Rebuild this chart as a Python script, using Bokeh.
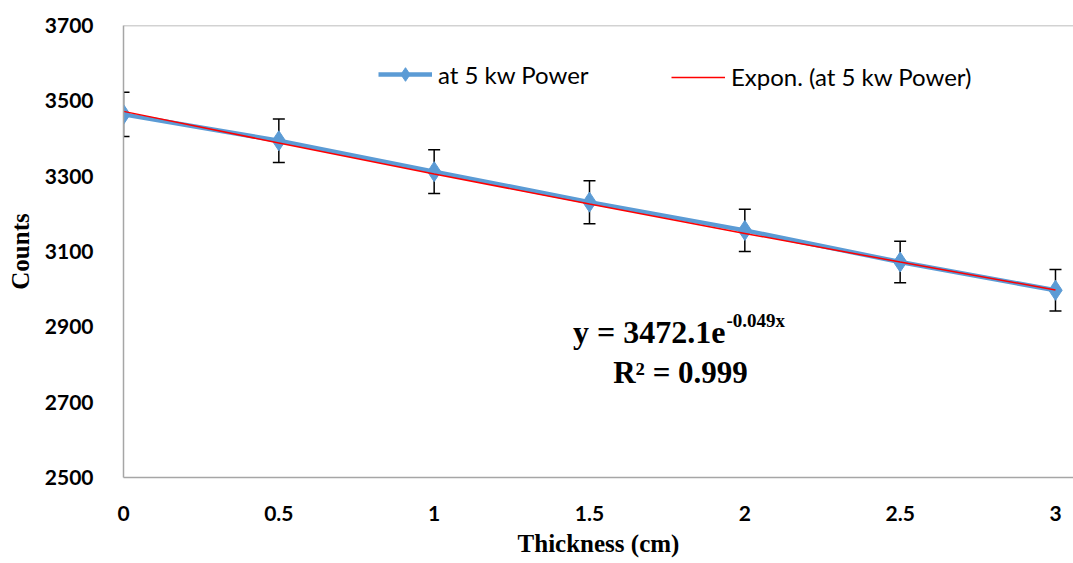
from bokeh.plotting import figure
from bokeh.models import (ColumnDataSource, Whisker, TeeHead, Legend, LegendItem,
                          Span, Label, FixedTicker, Range1d)
from bokeh.embed import file_html
from bokeh.resources import INLINE

# ---- data ----
thickness = [0, 0.5, 1, 1.5, 2, 2.5, 3]
counts = [3464, 3394, 3312, 3231, 3156, 3072, 2997]
errors = [59, 58, 58, 57, 56, 55, 55]
trend_counts = [3472, 3388, 3306, 3226, 3148, 3072, 2998]
x_ticks = [0, 0.5, 1, 1.5, 2, 2.5, 3]
x_tick_labels = ["0", "0.5", "1", "1.5", "2", "2.5", "3"]
y_ticks = [2500, 2700, 2900, 3100, 3300, 3500, 3700]
series_name = "at 5 kw Power"
trend_name = "Expon. (at 5 kw Power)"
eq_main = "y = 3472.1e"
eq_exp = "-0.049x"
eq_r2 = "R\u00b2 = 0.999"

upper = [c + e for c, e in zip(counts, errors)]
lower = [c - e for c, e in zip(counts, errors)]
src = ColumnDataSource(dict(x=thickness, y=counts, upper=upper, lower=lower,
                            trend=trend_counts))

AXIS_GRAY = "#a6a6a6"
BLUE = "#5b9bd5"

p = figure(width=1073, height=563, output_backend="svg", toolbar_location=None,
           x_range=Range1d(0, 3.058), y_range=Range1d(2500, 3700),
           min_border_left=123, min_border_right=0, min_border_top=25,
           min_border_bottom=86)
p.outline_line_color = None
p.xgrid.grid_line_color = None
p.ygrid.grid_line_color = None
p.background_fill_color = "white"
p.border_fill_color = "white"

# axes
p.xaxis.ticker = FixedTicker(ticks=x_ticks)
p.xaxis.major_label_overrides = {t: l for t, l in zip(x_ticks, x_tick_labels)}
p.yaxis.ticker = FixedTicker(ticks=y_ticks)
for ax in (p.xaxis[0], p.yaxis[0]):
    ax.axis_line_color = AXIS_GRAY
    ax.axis_line_width = 1.5
    ax.major_tick_line_color = None
    ax.minor_tick_line_color = None
    ax.major_label_text_font = "Lato"
    ax.major_label_text_font_style = "bold"
    ax.major_label_text_font_size = "21px"
    ax.major_label_text_color = "black"
    ax.axis_label_text_font = "Liberation Serif"
    ax.axis_label_text_font_style = "bold"
    ax.axis_label_text_font_size = "25px"
    ax.axis_label_text_color = "black"
p.xaxis.axis_label = "Thickness (cm)"
p.yaxis.axis_label = "Counts"
p.xaxis.major_label_standoff = 22
p.xaxis.axis_label_standoff = 6
p.yaxis.major_label_standoff = 24
p.yaxis.axis_label_standoff = 8

# top border
p.add_layout(Span(location=3700, dimension="width", line_color=AXIS_GRAY, line_width=1.5))

# error bars
p.add_layout(Whisker(source=src, base="x", upper="upper", lower="lower",
                     line_color="black", line_width=1.5,
                     upper_head=TeeHead(size=12, line_color="black", line_width=1.5),
                     lower_head=TeeHead(size=12, line_color="black", line_width=1.5)))

# series
r_line = p.line("x", "y", source=src, line_color=BLUE, line_width=4.5)
r_pts = p.scatter("x", "y", source=src, marker="diamond", size=20,
                  fill_color=BLUE, line_color=BLUE)
r_trend = p.line("x", "trend", source=src, line_color="#ff0000", line_width=1.5)

# legends (two separate, placed like the reference)
common = dict(border_line_color=None, background_fill_alpha=0, padding=0, margin=0,
              glyph_width=54, label_standoff=6,
              label_text_font="Lato", label_text_font_size="24px",
              label_text_color="black")
leg1 = Legend(items=[LegendItem(label=series_name, renderers=[r_line, r_pts])],
              location=(255, 386), glyph_height=34, label_height=34, **common)
leg2 = Legend(items=[LegendItem(label=trend_name, renderers=[r_trend])],
              location=(548, 386), glyph_height=24, label_height=24, **common)
p.add_layout(leg1, "center")
p.add_layout(leg2, "center")

# trendline equation
p.add_layout(Label(x=1.938, y=2885, text=eq_main, text_align="right",
                   text_baseline="alphabetic", text_font="Liberation Serif",
                   text_font_style="bold", text_font_size="32px", text_color="black"))
p.add_layout(Label(x=1.941, y=2917, text=eq_exp, text_align="left",
                   text_baseline="alphabetic", text_font="Liberation Serif",
                   text_font_style="bold", text_font_size="19px", text_color="black"))
p.add_layout(Label(x=1.793, y=2779, text=eq_r2, text_align="center",
                   text_baseline="alphabetic", text_font="Liberation Serif",
                   text_font_style="bold", text_font_size="31px", text_color="black"))

open("out.html", "w").write(file_html(p, INLINE))
